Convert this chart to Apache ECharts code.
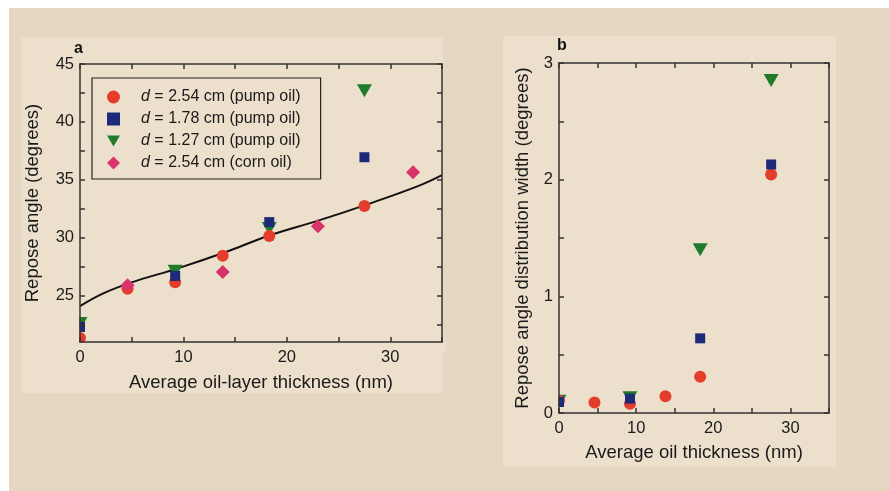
<!DOCTYPE html>
<html>
<head>
<meta charset="utf-8">
<script src="https://cdn.jsdelivr.net/npm/echarts@6/dist/echarts.min.js"></script>
<style>
html,body{margin:0;padding:0;background:#fff;}
#c{width:889px;height:491px;}
</style>
</head>
<body>
<div id="c"></div>
<script>
// ---- Panel a data ----
const aPumpD254X = [0, 4.6, 9.2, 13.8, 18.3, 27.5];
const aPumpD254Y = [21.35, 25.6, 26.15, 28.45, 30.15, 32.75];
const aPumpD178X = [0, 9.2, 18.3, 27.5];
const aPumpD178Y = [22.3, 26.7, 31.35, 36.95];
const aPumpD127X = [0, 9.2, 18.3, 27.5];
const aPumpD127Y = [22.6, 27.1, 30.8, 42.7];
const aCornD254X = [4.6, 13.8, 23.0, 32.2];
const aCornD254Y = [25.9, 27.05, 31.0, 35.65];
const aFitX = [0, 2.25, 5, 9.6, 14.5, 18.3, 23.1, 28, 32.8, 35];
const aFitY = [24.1, 25.2, 26.15, 27.4, 28.9, 30.2, 31.5, 32.95, 34.5, 35.4];

// ---- Panel b data ----
const bPumpD254X = [0, 4.6, 9.2, 13.8, 18.3, 27.5];
const bPumpD254Y = [0.105, 0.09, 0.08, 0.143, 0.31, 2.045];
const bPumpD178X = [0, 9.2, 18.3, 27.5];
const bPumpD178Y = [0.094, 0.123, 0.64, 2.13];
const bPumpD127X = [0, 9.2, 18.3, 27.5];
const bPumpD127Y = [0.1, 0.13, 1.4, 2.85];

// ---- Ticks ----
const aXTicks = [0, 5, 10, 15, 20, 25, 30, 35];
const aXLabels = [0, 10, 20, 30];
const aYTicks = [22.5, 25, 27.5, 30, 32.5, 35, 37.5, 40, 42.5, 45];
const aYLabels = [25, 30, 35, 40, 45];
const bXTicks = [0, 5, 10, 15, 20, 25, 30, 35];
const bXLabels = [0, 10, 20, 30];
const bYTicks = [0, 0.5, 1, 1.5, 2, 2.5, 3];
const bYLabels = [0, 1, 2, 3];

const seriesNames = ['d = 2.54 cm (pump oil)', 'd = 1.78 cm (pump oil)', 'd = 1.27 cm (pump oil)', 'd = 2.54 cm (corn oil)'];

const RED = '#e53d2b', BLUE = '#1d2a78', GREEN = '#1f7a2c', PINK = '#d8336b';
const PANEL = '#ece0cc';
const TRI = 'path://M0,0 L14,0 L7,12 Z';
const FONT = 'Liberation Sans';

function zip(xs, ys) { return xs.map((x, i) => [x, ys[i]]); }

function xAx(grid, pos, ticks, labels, name, nameGap) {
  return {
    type: 'value', gridIndex: grid, position: pos, min: 0, max: 35, z: 10,
    name: pos === 'bottom' ? name : '', nameLocation: 'middle', nameGap: nameGap,
    nameTextStyle: {fontFamily: FONT, fontSize: 18.5, color: '#1a1a1a'},
    axisLine: {show: true, onZero: false, lineStyle: {color: '#333', width: 1.5}},
    axisTick: {show: true, inside: true, length: 5, customValues: ticks, lineStyle: {color: '#333', width: 1.5}},
    axisLabel: {show: pos === 'bottom', customValues: labels, margin: 7, fontFamily: FONT, fontSize: 16.5, color: '#1a1a1a'},
    splitLine: {show: false}
  };
}
function yAx(grid, pos, min, max, ticks, labels, name, nameGap) {
  return {
    type: 'value', gridIndex: grid, position: pos, min: min, max: max, z: 10,
    name: pos === 'left' ? name : '', nameLocation: 'middle', nameGap: nameGap,
    nameTextStyle: {fontFamily: FONT, fontSize: 18.5, color: '#1a1a1a'},
    axisLine: {show: true, onZero: false, lineStyle: {color: '#333', width: 1.5}},
    axisTick: {show: true, inside: true, length: 5, customValues: ticks, lineStyle: {color: '#333', width: 1.5}},
    axisLabel: {show: pos === 'left', customValues: labels, margin: 6, fontFamily: FONT, fontSize: 16.5, color: '#1a1a1a'},
    splitLine: {show: false}
  };
}

const chart = echarts.init(document.getElementById('c'), null, {renderer: 'canvas'});
chart.setOption({
  animation: false,
  backgroundColor: '#ffffff',
  graphic: [
    {type: 'rect', z: -10, shape: {x: 9, y: 8, width: 880, height: 483}, style: {fill: '#e6d7c2'}},
    {type: 'rect', z: -9, shape: {x: 21, y: 38, width: 422, height: 355}, style: {fill: PANEL}},
    {type: 'rect', z: -9, shape: {x: 503, y: 36, width: 333, height: 431}, style: {fill: PANEL}},
    // masks that clip markers at the plot frame (panel colour, under axes)
    {type: 'rect', z: 5, shape: {x: 66, y: 60, width: 13.5, height: 295}, style: {fill: PANEL}},
    {type: 'rect', z: 5, shape: {x: 66, y: 342.5, width: 380, height: 9}, style: {fill: PANEL}},
    {type: 'rect', z: 5, shape: {x: 545, y: 58, width: 13.5, height: 368}, style: {fill: PANEL}},
    {type: 'rect', z: 5, shape: {x: 545, y: 413.5, width: 290, height: 6}, style: {fill: PANEL}},
    {type: 'text', z: 12, left: 74, top: 41, style: {text: 'a', font: 'bold 16px "Liberation Sans"', fill: '#111'}},
    {type: 'text', z: 12, left: 557, top: 38, style: {text: 'b', font: 'bold 16px "Liberation Sans"', fill: '#111'}}
  ],
  legend: {
    orient: 'vertical', left: 92, top: 78, z: 12,
    data: seriesNames,
    itemWidth: 13, itemHeight: 13, itemGap: 6,
    padding: [11, 20, 8, 15],
    borderColor: '#222', borderWidth: 1.2,
    backgroundColor: 'rgba(0,0,0,0)',
    formatter: function (n) { return '{i|d}' + n.slice(1); },
    textStyle: {
      fontFamily: FONT, fontSize: 16, lineHeight: 14, color: '#1a1a1a', padding: [0, 0, 0, 16],
      rich: {i: {fontStyle: 'italic', fontFamily: FONT, fontSize: 16, lineHeight: 14, color: '#1a1a1a'}}
    }
  },
  grid: [
    {left: 80, top: 64, width: 362, height: 278},
    {left: 559, top: 63, width: 270, height: 350}
  ],
  xAxis: [
    xAx(0, 'bottom', aXTicks, aXLabels, 'Average oil-layer thickness (nm)', 31),
    xAx(0, 'top', aXTicks, aXLabels, '', 0),
    xAx(1, 'bottom', bXTicks, bXLabels, 'Average oil thickness (nm)', 30),
    xAx(1, 'top', bXTicks, bXLabels, '', 0)
  ],
  yAxis: [
    yAx(0, 'left', 21, 45, aYTicks, aYLabels, 'Repose angle (degrees)', 38),
    yAx(0, 'right', 21, 45, aYTicks, aYLabels, '', 0),
    yAx(1, 'left', 0, 3, bYTicks, bYLabels, 'Repose angle distribution width (degrees)', 27),
    yAx(1, 'right', 0, 3, bYTicks, bYLabels, '', 0)
  ],
  series: [
    {type: 'line', xAxisIndex: 0, yAxisIndex: 0, data: zip(aFitX, aFitY), smooth: 0.4, showSymbol: false, symbol: 'none',
     lineStyle: {color: '#111', width: 2}, z: 1, silent: true},
    {name: seriesNames[0], type: 'scatter', xAxisIndex: 0, yAxisIndex: 0, data: zip(aPumpD254X, aPumpD254Y),
     symbol: 'circle', symbolSize: 12, itemStyle: {color: RED, opacity: 1}, z: 3},
    {name: seriesNames[1], type: 'scatter', xAxisIndex: 0, yAxisIndex: 0, data: zip(aPumpD178X, aPumpD178Y),
     symbol: 'rect', symbolSize: 10, itemStyle: {color: BLUE, opacity: 1}, z: 4},
    {name: seriesNames[2], type: 'scatter', xAxisIndex: 0, yAxisIndex: 0, data: zip(aPumpD127X, aPumpD127Y),
     symbol: TRI, symbolSize: [15, 13], itemStyle: {color: GREEN, opacity: 1}, z: 2},
    {name: seriesNames[3], type: 'scatter', xAxisIndex: 0, yAxisIndex: 0, data: zip(aCornD254X, aCornD254Y),
     symbol: 'diamond', symbolSize: 14, itemStyle: {color: PINK, opacity: 1}, z: 4},
    {name: seriesNames[0], type: 'scatter', xAxisIndex: 2, yAxisIndex: 2, data: zip(bPumpD254X, bPumpD254Y),
     symbol: 'circle', symbolSize: 12, itemStyle: {color: RED, opacity: 1}, z: 3},
    {name: seriesNames[1], type: 'scatter', xAxisIndex: 2, yAxisIndex: 2, data: zip(bPumpD178X, bPumpD178Y),
     symbol: 'rect', symbolSize: 10, itemStyle: {color: BLUE, opacity: 1}, z: 4},
    {name: seriesNames[2], type: 'scatter', xAxisIndex: 2, yAxisIndex: 2, data: zip(bPumpD127X, bPumpD127Y),
     symbol: TRI, symbolSize: [15, 13], itemStyle: {color: GREEN, opacity: 1}, z: 2}
  ]
});
</script>
</body>
</html>
